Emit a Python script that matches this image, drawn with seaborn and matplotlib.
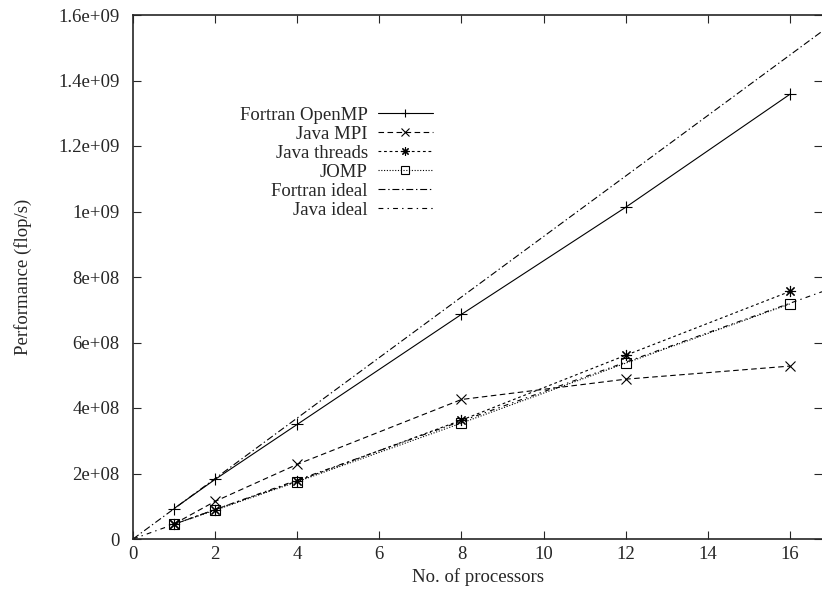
import matplotlib
matplotlib.use("Agg")
import matplotlib.pyplot as plt
from matplotlib.ticker import FixedLocator, FixedFormatter
import pandas as pd
import seaborn as sns

# measured performance (flop/s) against number of processors
procs = [1, 2, 4, 8, 12, 16]
fortran_openmp = [9.3e7, 1.82e8, 3.50e8, 6.86e8, 1.013e9, 1.358e9]
java_mpi = [4.6e7, 1.15e8, 2.28e8, 4.26e8, 4.88e8, 5.28e8]
java_threads = [4.5e7, 9.0e7, 1.77e8, 3.63e8, 5.61e8, 7.56e8]
jomp = [4.5e7, 8.8e7, 1.75e8, 3.54e8, 5.37e8, 7.18e8]

# ideal-scaling lines (end points across the x range)
ideal_x = [0, 16.78]
fortran_ideal = [0, 1.55e9]
java_ideal = [0, 7.55e8]

x_ticks = [0, 2, 4, 6, 8, 10, 12, 14, 16]
y_ticks = [0, 2e8, 4e8, 6e8, 8e8, 1e9, 1.2e9, 1.4e9, 1.6e9]
y_tick_labels = ["0", "2e+08", "4e+08", "6e+08", "8e+08",
                 "1e+09", "1.2e+09", "1.4e+09", "1.6e+09"]

sns.set_style("ticks")
plt.rcParams["font.family"] = ["Liberation Serif", "DejaVu Serif"]
plt.rcParams["lines.scale_dashes"] = False

measured = pd.DataFrame({
    "procs": procs,
    "Fortran OpenMP": fortran_openmp,
    "Java MPI": java_mpi,
    "Java threads": java_threads,
    "JOMP": jomp,
})
ideal = pd.DataFrame({
    "procs": ideal_x,
    "Fortran ideal": fortran_ideal,
    "Java ideal": java_ideal,
})

styles = {
    "Fortran OpenMP": dict(linestyle="-", marker="+", ms=8),
    "Java MPI": dict(linestyle=(0, (4, 2.5)), marker="x", ms=7),
    "Java threads": dict(linestyle=(0, (2, 2)), marker=(8, 2, 0), ms=8),
    "JOMP": dict(linestyle=(0, (0.8, 1.2)), marker="s", ms=7,
                 markerfacecolor="none"),
    "Fortran ideal": dict(linestyle=(0, (5, 2, 1, 2))),
    "Java ideal": dict(linestyle=(0, (3.5, 3, 1, 3))),
}

fig = plt.figure(figsize=(8.22, 5.98), dpi=100)
ax = fig.add_axes([133 / 822, 59 / 598, 689 / 822, 524 / 598])

for name in ["Fortran OpenMP", "Java MPI", "Java threads", "JOMP"]:
    sns.lineplot(data=measured, x="procs", y=name, ax=ax, color="black",
                 linewidth=0.8, markeredgecolor="black", markeredgewidth=0.8,
                 label=name, clip_on=False, **styles[name])
for name in ["Fortran ideal", "Java ideal"]:
    sns.lineplot(data=ideal, x="procs", y=name, ax=ax, color="black",
                 linewidth=0.8, label=name, **styles[name])

ax.set_xlim(0, 16.78)
ax.set_ylim(0, 1.6e9)
ax.xaxis.set_major_locator(FixedLocator(x_ticks))
ax.yaxis.set_major_locator(FixedLocator(y_ticks))
ax.yaxis.set_major_formatter(FixedFormatter(y_tick_labels))
ax.tick_params(direction="in", length=6, width=0.8, labelsize=13.5,
               top=True, right=True)
ax.tick_params(axis="x", pad=5)
ax.tick_params(axis="y", pad=9.5)
for side in ["left", "bottom", "top"]:
    ax.spines[side].set_linewidth(1.2)
ax.spines["right"].set_visible(False)

ax.set_xlabel("No. of processors", fontsize=13.5, labelpad=4)
ax.set_ylabel("Performance (flop/s)", fontsize=13.5, labelpad=19)

ax.legend(loc="upper right", bbox_to_anchor=(0.4485, 0.8435), frameon=False,
          markerfirst=False, fontsize=13.5, handlelength=2.9,
          handletextpad=0.55, labelspacing=0.1, borderpad=0,
          markerscale=0.75)

fig.savefig("out.png", dpi=100)
